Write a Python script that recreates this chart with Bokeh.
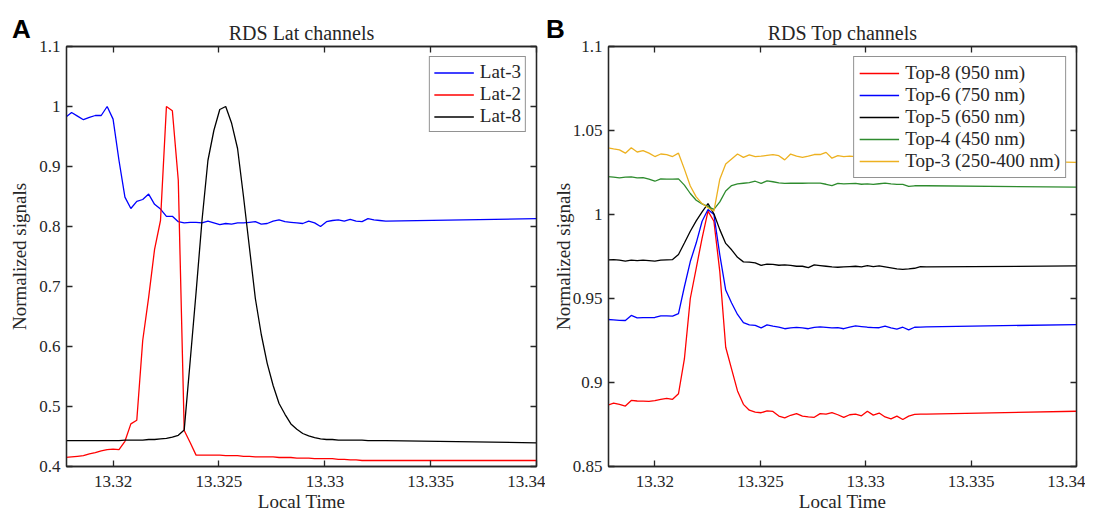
from bokeh.plotting import figure
from bokeh.layouts import row
from bokeh.models import (Range1d, FixedTicker, CustomJSTickFormatter, LinearAxis,
                          Legend, LegendItem, Div)
from bokeh.embed import file_html
from bokeh.resources import INLINE

# ---------------- data ----------------
time = [13.31776, 13.31804, 13.31832, 13.31860, 13.31888, 13.31916, 13.31944, 13.31972,
        13.32000, 13.32028, 13.32056, 13.32084, 13.32112, 13.32140, 13.32168, 13.32196,
        13.32224, 13.32252, 13.32280, 13.32308, 13.32336, 13.32364, 13.32392, 13.32420,
        13.32448, 13.32476, 13.32504, 13.32532, 13.32560, 13.32588, 13.32616, 13.32644,
        13.32672, 13.32700, 13.32728, 13.32756, 13.32784, 13.32812, 13.32840, 13.32868,
        13.32896, 13.32924, 13.32952, 13.32980, 13.33008, 13.33036, 13.33064, 13.33092,
        13.33120, 13.33148, 13.33176, 13.33204, 13.33232, 13.33260, 13.33288, 13.34000]

lat3 = [0.982, 0.990, 0.984, 0.978, 0.982, 0.985, 0.985, 1.000, 0.979, 0.910,
        0.849, 0.830, 0.842, 0.845, 0.854, 0.837, 0.829, 0.817, 0.817, 0.808,
        0.806, 0.807, 0.807, 0.806, 0.809, 0.806, 0.803, 0.805, 0.804, 0.806,
        0.806, 0.807, 0.808, 0.804, 0.805, 0.809, 0.811, 0.808, 0.807, 0.806,
        0.805, 0.809, 0.806, 0.800, 0.808, 0.810, 0.811, 0.809, 0.812, 0.809,
        0.808, 0.813, 0.811, 0.810, 0.809, 0.813]
lat2 = [0.415, 0.416, 0.417, 0.418, 0.421, 0.423, 0.426, 0.428, 0.429, 0.428,
        0.442, 0.471, 0.477, 0.610, 0.682, 0.762, 0.810, 1.000, 0.993, 0.877,
        0.460, 0.440, 0.419, 0.419, 0.419, 0.419, 0.419, 0.418, 0.418, 0.418,
        0.417, 0.417, 0.416, 0.416, 0.416, 0.416, 0.415, 0.415, 0.415, 0.414,
        0.414, 0.414, 0.413, 0.413, 0.413, 0.413, 0.412, 0.412, 0.411, 0.411,
        0.410, 0.410, 0.410, 0.410, 0.410, 0.410]
lat8 = [0.443, 0.443, 0.443, 0.443, 0.443, 0.443, 0.443, 0.443, 0.443, 0.443,
        0.444, 0.444, 0.444, 0.444, 0.445, 0.445, 0.446, 0.447, 0.449, 0.452,
        0.461, 0.575, 0.690, 0.810, 0.910, 0.960, 0.995, 1.000, 0.972, 0.930,
        0.850, 0.765, 0.680, 0.620, 0.572, 0.535, 0.505, 0.487, 0.471, 0.462,
        0.455, 0.451, 0.448, 0.446, 0.445, 0.445, 0.444, 0.444, 0.444, 0.444,
        0.444, 0.443, 0.443, 0.443, 0.443, 0.4395]

top8 = [0.8865, 0.8877, 0.8870, 0.8860, 0.8893, 0.8890, 0.8889, 0.8888, 0.8892, 0.8900,
        0.8906, 0.8900, 0.8933, 0.9140, 0.9500, 0.9680, 0.9860, 1.0020, 0.9960, 0.9660,
        0.9210, 0.9080, 0.8950, 0.8870, 0.8835, 0.8824, 0.8820, 0.8831, 0.8828, 0.8800,
        0.8790, 0.8805, 0.8815, 0.8800, 0.8795, 0.8793, 0.8815, 0.8812, 0.8820, 0.8808,
        0.8792, 0.8808, 0.8812, 0.8802, 0.8829, 0.8806, 0.8818, 0.8795, 0.8784, 0.8800,
        0.8780, 0.8800, 0.8810, 0.8812, 0.8812, 0.8829]
top6 = [0.9375, 0.9373, 0.9370, 0.9369, 0.9399, 0.9385, 0.9386, 0.9386, 0.9387, 0.9397,
        0.9396, 0.9395, 0.9410, 0.9570, 0.9720, 0.9830, 0.9960, 1.0030, 1.0000, 0.9760,
        0.9550, 0.9473, 0.9405, 0.9357, 0.9343, 0.9340, 0.9325, 0.9343, 0.9335, 0.9330,
        0.9320, 0.9325, 0.9328, 0.9325, 0.9320, 0.9328, 0.9331, 0.9328, 0.9325, 0.9326,
        0.9320, 0.9329, 0.9337, 0.9333, 0.9329, 0.9327, 0.9326, 0.9335, 0.9325, 0.9318,
        0.9329, 0.9313, 0.9329, 0.9330, 0.9331, 0.9345]
top5 = [0.9730, 0.9732, 0.9728, 0.9722, 0.9728, 0.9725, 0.9728, 0.9725, 0.9722, 0.9728,
        0.9730, 0.9732, 0.9762, 0.9830, 0.9900, 0.9962, 1.0016, 1.0065, 1.0004, 0.9910,
        0.9828, 0.9790, 0.9745, 0.9718, 0.9716, 0.9712, 0.9697, 0.9705, 0.9703, 0.9698,
        0.9700, 0.9697, 0.9692, 0.9692, 0.9684, 0.9700, 0.9696, 0.9692, 0.9688, 0.9686,
        0.9688, 0.9690, 0.9692, 0.9688, 0.9696, 0.9690, 0.9694, 0.9688, 0.9682, 0.9676,
        0.9673, 0.9676, 0.9680, 0.9690, 0.9688, 0.9694]
top4 = [1.0226, 1.0222, 1.0218, 1.0222, 1.0224, 1.0218, 1.0220, 1.0210, 1.0198, 1.0212,
        1.0210, 1.0211, 1.0212, 1.0175, 1.0125, 1.0085, 1.0063, 1.0047, 1.0030, 1.0075,
        1.0140, 1.0172, 1.0182, 1.0186, 1.0190, 1.0198, 1.0185, 1.0200, 1.0195, 1.0188,
        1.0185, 1.0186, 1.0187, 1.0186, 1.0187, 1.0187, 1.0187, 1.0180, 1.0172, 1.0185,
        1.0182, 1.0184, 1.0185, 1.0180, 1.0182, 1.0179, 1.0183, 1.0187, 1.0182, 1.0179,
        1.0179, 1.0167, 1.0171, 1.0171, 1.0171, 1.0163]
top3 = [1.0397, 1.0390, 1.0385, 1.0365, 1.0397, 1.0372, 1.0380, 1.0365, 1.0345, 1.0360,
        1.0357, 1.0345, 1.0365, 1.0270, 1.0170, 1.0105, 1.0065, 1.0040, 1.0020, 1.0210,
        1.0300, 1.0330, 1.0360, 1.0340, 1.0355, 1.0345, 1.0347, 1.0352, 1.0357, 1.0350,
        1.0325, 1.0360, 1.0347, 1.0340, 1.0347, 1.0357, 1.0357, 1.0370, 1.0335, 1.0350,
        1.0345, 1.0347, 1.0345, 1.0345, 1.0340, 1.0343, 1.0338, 1.0340, 1.0335, 1.0338,
        1.0333, 1.0336, 1.0332, 1.0334, 1.0330, 1.0310]

x_ticks = [13.32, 13.325, 13.33, 13.335, 13.34]
a_yticks = [0.4, 0.5, 0.6, 0.7, 0.8, 0.9, 1.0, 1.1]
b_yticks = [0.85, 0.9, 0.95, 1.0, 1.05, 1.1]

lat_labels = ["Lat-3", "Lat-2", "Lat-8"]
lat_colors = ["#0000FF", "#FF0000", "#000000"]
top_labels = ["Top-8 (950 nm)", "Top-6 (750 nm)", "Top-5 (650 nm)",
              "Top-4 (450 nm)", "Top-3 (250-400 nm)"]
top_colors = ["#FF0000", "#0000FF", "#000000", "#2E8B2E", "#EDB120"]

# ---------------- styling helpers ----------------
SERIF = "Liberation Serif"
TXT = "#262626"
FMT = "var s = tick.toFixed(3); s = s.replace(/0+$/, ''); s = s.replace(/\\.$/, ''); return s;"
HEIGHT = 514
TOP = 46
BOTTOM = 48


def style_axis(ax, ticks, label, label_standoff, tick_standoff):
    ax.ticker = FixedTicker(ticks=ticks)
    ax.formatter = CustomJSTickFormatter(code=FMT)
    ax.axis_label = label
    ax.axis_label_text_font = SERIF
    ax.axis_label_text_font_size = "19px"
    ax.axis_label_text_font_style = "normal"
    ax.axis_label_text_color = TXT
    ax.axis_label_standoff = label_standoff
    ax.major_label_text_font = SERIF
    ax.major_label_text_font_size = "17px"
    ax.major_label_text_color = TXT
    ax.major_label_standoff = tick_standoff
    ax.major_tick_in = 6
    ax.major_tick_out = 0
    ax.minor_tick_in = 0
    ax.minor_tick_out = 0
    ax.axis_line_color = TXT
    ax.axis_line_width = 1.3
    ax.major_tick_line_color = TXT
    ax.major_tick_line_width = 1.3


def mirror_axis(ticks):
    return LinearAxis(ticker=FixedTicker(ticks=ticks),
                      formatter=CustomJSTickFormatter(code="return '';"),
                      major_label_text_font_size="0px", major_label_standoff=0,
                      major_tick_in=6, major_tick_out=0, minor_tick_in=0, minor_tick_out=0,
                      axis_line_color=TXT, axis_line_width=1.3,
                      major_tick_line_color=TXT, major_tick_line_width=1.3)


def make_panel(title, width, left, right, yr, yticks, series, labels, colors,
               ylab_standoff, label_h, pad):
    p = figure(width=width, height=HEIGHT, x_range=Range1d(13.3178, 13.34),
               y_range=Range1d(*yr), output_backend="svg", toolbar_location=None,
               min_border_left=left, min_border_right=right,
               min_border_top=TOP, min_border_bottom=BOTTOM, title=title)
    p.title.align = "center"
    p.title.text_font = SERIF
    p.title.text_font_size = "20px"
    p.title.text_font_style = "normal"
    p.title.text_color = TXT
    p.title.standoff = 6
    p.grid.visible = False
    p.outline_line_color = TXT
    p.outline_line_width = 1.3
    p.background_fill_color = "white"
    p.border_fill_color = "white"

    style_axis(p.xaxis[0], x_ticks, "Local Time", 1, 9)
    style_axis(p.yaxis[0], yticks, "Normalized signals", ylab_standoff, 6)
    p.add_layout(mirror_axis(x_ticks), "above")
    p.add_layout(mirror_axis(yticks), "right")

    items = []
    for ys, lab, col in zip(series, labels, colors):
        r = p.line(time, ys, line_color=col, line_width=1.3)
        items.append(LegendItem(label=lab, renderers=[r]))
    leg = Legend(items=items, location="top_right", margin=10, padding=pad, spacing=0,
                 label_height=label_h, glyph_height=label_h, glyph_width=40,
                 label_standoff=6, label_text_font=SERIF, label_text_font_size="19px",
                 label_text_color=TXT, border_line_color=TXT, border_line_width=1.3,
                 background_fill_color="white", background_fill_alpha=1.0)
    p.add_layout(leg)
    return p


pA = make_panel("RDS Lat channels", 545, 66, 9, (0.4, 1.1), a_yticks,
                [lat3, lat2, lat8], lat_labels, lat_colors, 6, 21, 4)
pB = make_panel("RDS Top channels", 540, 63, 9, (0.85, 1.1), b_yticks,
                [top8, top6, top5, top4, top3], top_labels, top_colors, -4, 22, 5)


def letter_div(letter, left, top):
    html = ('<span style="font-family: \'Liberation Sans\', Arial, sans-serif; '
            'font-weight: bold; font-size: 26px; line-height: 26px; color: #000;">'
            + letter + '</span>')
    return Div(text=html, width=24, height=28, margin=0,
               styles={"position": "absolute", "left": f"{left}px", "top": f"{top}px",
                       "z-index": "10"})


divA = letter_div("A", 12, 16)
divB = letter_div("B", 546, 16)

layout = row(pA, pB, divA, divB)
open("out.html", "w").write(file_html(layout, INLINE))
